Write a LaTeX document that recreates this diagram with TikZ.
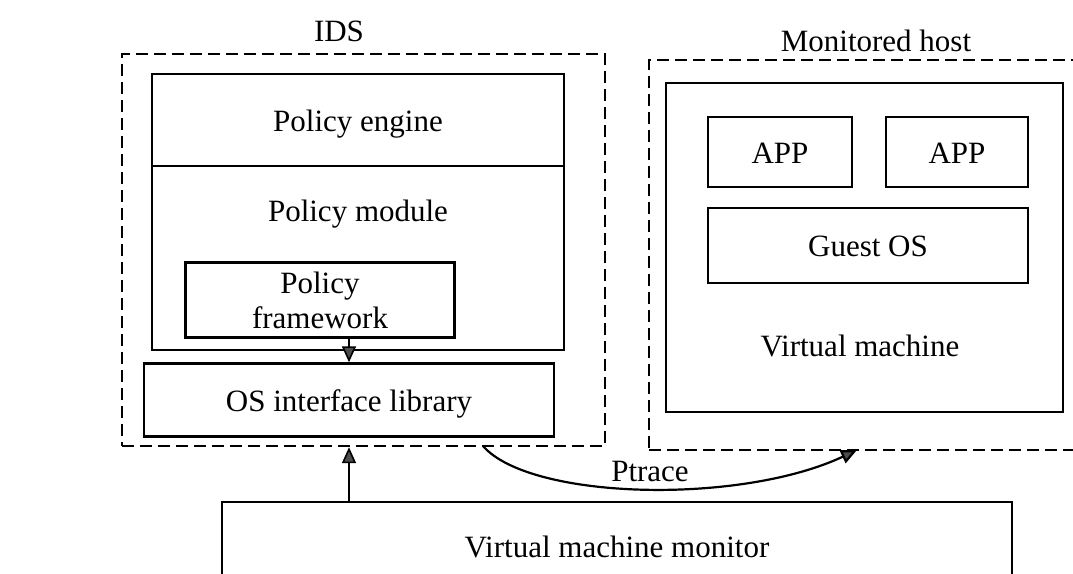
\documentclass[tikz,border=0pt]{standalone}
\usepackage{fontspec}
\setmainfont{Liberation Serif}
\usetikzlibrary{arrows.meta}
\tikzset{
  boxed/.style={draw, line width=2.4pt, inner sep=0pt, align=center},
  blk/.style={boxed, text height=24pt, text depth=2pt},
  grp/.style={draw, line width=2.4pt, dash pattern=on 12pt off 6pt, inner sep=0pt},
  txt/.style={inner sep=0pt, align=center, text height=24pt, text depth=2pt},
  tip/.style={-{Triangle[width=14pt,length=16pt,fill=black!70]}, line width=1.6pt}
}
\begin{document}
\begin{tikzpicture}[x=1pt,y=-1pt,font=\fontsize{31}{35}\selectfont]
\useasboundingbox (0,0) rectangle (1073,573);
% IDS side
\node[grp, minimum width=483pt, minimum height=392pt] (ids) at (363.5,250) {};
\node[txt] (idslabel) at (339,30) {IDS};
\node[blk, minimum width=412pt, minimum height=92pt] (engine) at (358,120) {Policy engine};
\node[boxed, minimum width=412pt, minimum height=184pt] (module) at (358,258) {};
\node[txt] (moduletext) at (358,210) {Policy module};
\node[boxed, minimum width=269pt, minimum height=75pt] (framework) at (320,300) {Policy\\framework};
\node[blk, minimum width=410pt, minimum height=73pt] (oslib) at (349,400) {OS interface library};
\draw[tip] (framework.south -| oslib.north) -- (oslib.north);
% monitored host
\node[grp, minimum width=436pt, minimum height=390pt] (host) at (867,255) {};
\node[txt] (hostlabel) at (876,40) {Monitored host};
\node[boxed, minimum width=397pt, minimum height=329pt] (vm) at (864.5,247.5) {};
\node[txt] (vmtext) at (860,345) {Virtual machine};
\node[blk, minimum width=144pt, minimum height=70pt] (app1) at (780,152) {APP};
\node[blk, minimum width=142pt, minimum height=70pt] (app2) at (957,152) {APP};
\node[blk, minimum width=320pt, minimum height=75pt] (guest) at (868,245.5) {Guest OS};
% monitor below
\node[blk, minimum width=790pt, minimum height=88pt] (vmm) at (617,546) {Virtual machine monitor};
\draw[tip] (vmm.north -| oslib.north) -- (ids.south -| oslib.north);
\coordinate (pfrom) at (483,446);
\coordinate (pto) at (857,450);
\draw[tip, line width=2.2pt] (pfrom) .. controls (530,500) and (740,505) .. (pto);
\node[txt] (ptrace) at (650,470) {Ptrace};
\end{tikzpicture}
\end{document}
